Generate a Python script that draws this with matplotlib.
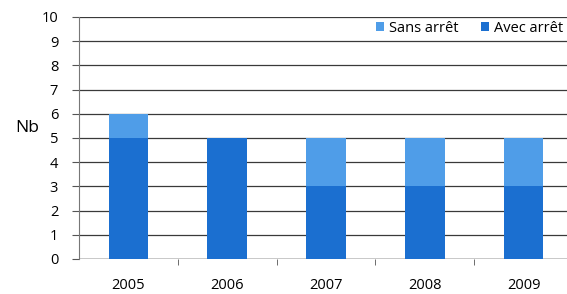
import matplotlib
matplotlib.use("Agg")
import matplotlib.pyplot as plt
import numpy as np

# Data
years = ["2005", "2006", "2007", "2008", "2009"]
avec_arret = [5, 5, 3, 3, 3]
sans_arret = [1, 0, 2, 2, 2]

DARK = "#1b6fd0"
LIGHT = "#4f9de8"

plt.rcParams["font.family"] = ["Open Sans", "DejaVu Sans"]

fig = plt.figure(figsize=(5.67, 2.94), dpi=100)
ax = fig.add_axes([79 / 567, 1 - 259 / 294, 494 / 567, 242 / 294])

x = np.arange(len(years))
ax.bar(x, avec_arret, width=0.4, color=DARK, label="Avec arrêt", zorder=3)
ax.bar(x, sans_arret, width=0.4, bottom=avec_arret, color=LIGHT, label="Sans arrêt", zorder=3)

ax.set_xlim(-0.5, len(years) - 0.5)
ax.set_ylim(0, 10)
ax.set_yticks(range(0, 11))
ax.set_xticks(x)
ax.set_xticklabels(years)
ax.set_xticks(np.arange(0.5, len(years) - 0.5, 1), minor=True)

ax.grid(axis="y", color="#3a3a3a", linewidth=0.9, zorder=0)
for s in ["top", "right", "bottom"]:
    ax.spines[s].set_visible(False)
ax.spines["left"].set_color("#777777")
ax.axhline(0, color="#555555", linewidth=1.0, zorder=2)

ax.tick_params(axis="y", length=5, color="#555555", labelsize=10.5, pad=10)
ax.tick_params(axis="x", which="major", length=0, labelsize=10.5, pad=14)
ax.tick_params(axis="x", which="minor", length=4, color="#555555")

fig.text(27 / 567, 1 - 128 / 294, "Nb", fontsize=12.5, ha="center", va="center")

handles, labels = ax.get_legend_handles_labels()
ax.legend(handles[::-1], labels[::-1], loc="center left",
          bbox_to_anchor=(376 / 567, 1 - 28 / 294), bbox_transform=fig.transFigure,
          ncol=2, frameon=False, fontsize=10.5, handlelength=0.55, handleheight=0.55,
          handletextpad=0.35, columnspacing=1.5, borderpad=0, borderaxespad=0)

fig.savefig("out.png", dpi=100, facecolor="white")
